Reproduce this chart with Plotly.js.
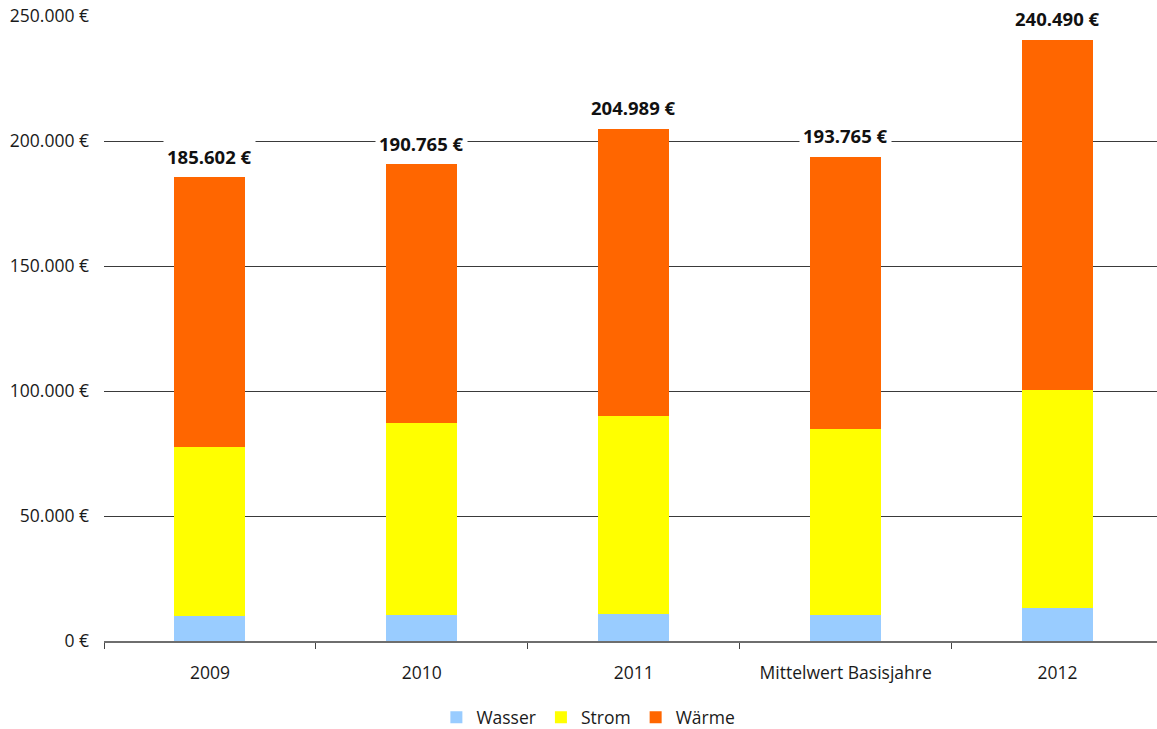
<!DOCTYPE html>
<html>
<head>
<meta charset="utf-8">
<script src="https://cdn.plot.ly/plotly-3.0.1.min.js"></script>
<style>
  html, body { margin: 0; padding: 0; background: #fff; }
  #chart { width: 1157px; height: 729px; }
</style>
</head>
<body>
<div id="chart"></div>
<script>
// Energiekosten je Jahr, gestapelt nach Medium (Euro)
const categories = ['2009', '2010', '2011', 'Mittelwert Basisjahre', '2012'];
const wasser = [10200, 10300, 10900, 10600, 13300];
const strom  = [67400, 76900, 79200, 74200, 87100];
const waerme = [108002, 103565, 114889, 108965, 140090];
const totals = [185602, 190765, 204989, 193765, 240490];
const yTicks = [0, 50000, 100000, 150000, 200000, 250000];

const FONT = 'Open Sans, Noto Sans, sans-serif';

// Deutsche Tausendertrennung mit Punkt
function euro(v) {
  return String(v).replace(/\B(?=(\d{3})+(?!\d))/g, '.') + ' €';
}

const barWidth = 0.335;
const traces = [
  { name: 'Wasser', y: wasser, marker: { color: '#99CCFF' } },
  { name: 'Strom',  y: strom,  marker: { color: '#FFFF00' } },
  { name: 'Wärme',  y: waerme, marker: { color: '#FF6600' } }
].map(t => Object.assign({
  type: 'bar',
  x: categories,
  width: barWidth,
  hoverinfo: 'skip'
}, t));

// Summenbeschriftung über jedem Balken (x als Kategorienindex)
const annotations = categories.map((c, i) => ({
  x: i,
  y: totals[i],
  xref: 'x',
  yref: 'y',
  text: '<b>' + euro(totals[i]) + '</b>',
  showarrow: false,
  yanchor: 'middle',
  yshift: 21,
  bgcolor: '#ffffff',
  borderpad: 3,
  font: { family: FONT, size: 18.5, color: '#111111' }
}));

const layout = {
  width: 1157,
  height: 729,
  barmode: 'stack',
  paper_bgcolor: '#ffffff',
  plot_bgcolor: '#ffffff',
  margin: { l: 104, r: 0, t: 16, b: 88, autoexpand: false },
  font: { family: FONT, size: 17.5, color: '#1a1a1a' },
  showlegend: true,
  legend: {
    orientation: 'h',
    x: 0.46,
    xanchor: 'center',
    y: -0.122,
    yanchor: 'middle',
    font: { family: FONT, size: 17.5, color: '#1a1a1a' },
    traceorder: 'normal',
    itemwidth: 30
  },
  xaxis: {
    type: 'category',
    range: [-0.5, 4.469],
    showline: true,
    linecolor: '#6e6e6e',
    linewidth: 2,
    ticks: 'outside',
    tickson: 'boundaries',
    ticklen: 6,
    tickcolor: '#444444',
    tickwidth: 1,
    showgrid: false,
    ticklabelstandoff: 15,
    tickfont: { family: FONT, size: 17.5, color: '#1a1a1a' }
  },
  yaxis: {
    range: [0, 250000],
    tickvals: yTicks,
    ticktext: yTicks.map(euro),
    showgrid: true,
    gridcolor: '#3a3a3a',
    gridwidth: 1,
    zeroline: false,
    showline: false,
    ticks: '',
    ticklabelstandoff: 14,
    tickfont: { family: FONT, size: 17.5, color: '#1a1a1a' }
  },
  annotations: annotations
};

Plotly.newPlot('chart', traces, layout, { displayModeBar: false, staticPlot: true });
</script>
</body>
</html>
